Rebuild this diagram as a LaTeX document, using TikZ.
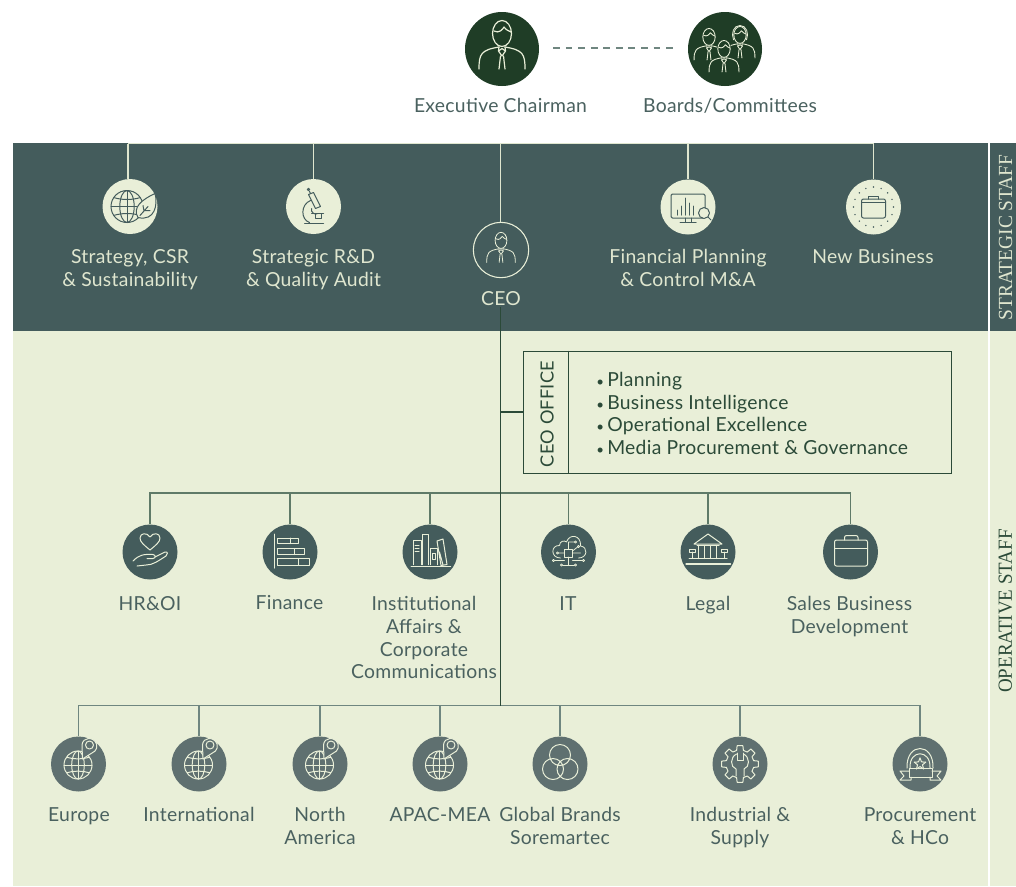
\documentclass[tikz,border=0pt]{standalone}
\usepackage{fontspec}
\setmainfont[LetterSpace=1.5]{Lato}
\newfontfamily\didone{Liberation Serif}
\definecolor{cdark}{HTML}{1F3D26}
\definecolor{cpanel}{HTML}{445C5C}
\definecolor{clight}{HTML}{E9EFD8}
\definecolor{cmid}{HTML}{5F7070}
\definecolor{ctext}{HTML}{4A615F}
\definecolor{ccream}{HTML}{DFE6CF}
\definecolor{cline}{HTML}{5F7A68}
\definecolor{cline2}{HTML}{6F8680}
\definecolor{cdeep}{HTML}{2B4A38}
\tikzset{
  x=0.75pt,y=-0.75pt,
  lab/.style={font=\fontsize{14.5}{17}\selectfont,align=center,inner sep=0pt,anchor=north,yshift=11pt,text=ctext,execute at begin node={\rule{0pt}{11pt}}},
  labl/.style={lab,text=ccream},
  disc/.style={circle,minimum size=41.25pt,inner sep=0pt,draw=none},
  dsl/.style={disc,fill=clight},
  dsd/.style={disc,fill=cpanel},
  dsm/.style={disc,fill=cmid},
  big/.style={circle,minimum size=55.5pt,inner sep=0pt,fill=cdark},
  ring/.style={circle,minimum size=41.5pt,inner sep=0pt,draw=clight,line width=.8pt},
  ico/.style={line width=.75pt,line cap=round,line join=round},
  conlight/.style={draw=ccream,line width=.8pt},
  con2/.style={draw=cline,line width=.8pt},
  con3/.style={draw=cline2,line width=.8pt},
  spine/.style={draw=cdeep,line width=.9pt},
  staff/.style={inner sep=0pt,rotate=90,font=\didone\fontsize{15}{17}\selectfont},
}
\newcommand\officebullet{\makebox[9.75pt][l]{\kern1.5pt\fontsize{10}{17}\selectfont•}}
\newcommand\personicon{%
  \draw (0,-15.5) ellipse (9.5 and 13);
  \draw (-8,-18) .. controls (-3,-15) and (1,-20) .. (2,-22) .. controls (4,-19) and (7,-18) .. (9,-17);
  \draw (-23,20) .. controls (-23,5) and (-21,1) .. (-3,-2);
  \draw (23,20) .. controls (23,5) and (21,1) .. (3,-2);
  \draw (-3,-2) -- (-3.5,2) -- (0,7) -- (3.5,2) -- (3,-2);
  \draw (-3.5,2) -- (0,-.5) -- (3.5,2);
  \draw (-1.5,7) -- (-3,20) (1.5,7) -- (3,20);
}
\newcommand\globeicon[1]{% radius
  \draw (0,0) circle (#1);
  \draw (0,0) ellipse (.45*#1 and #1);
  \draw (0,-#1) -- (0,#1) (-#1,0) -- (#1,0);
  \draw (-.8*#1,-.55*#1) .. controls (-.3*#1,-.4*#1) and (.3*#1,-.4*#1) .. (.8*#1,-.55*#1);
  \draw (-.8*#1,.55*#1) .. controls (-.3*#1,.4*#1) and (.3*#1,.4*#1) .. (.8*#1,.55*#1);
}
\newcommand\pinglobe[1]{%
  \begin{scope}[ico,draw=clight,shift={(#1.center)}]
    \begin{scope}[shift={(-.5,1)}]\globeicon{14}\end{scope}
    \draw[fill=cmid] (4,-5) -- (3.5,-19) .. controls (4,-27) and (15,-28) .. (18,-20) .. controls (19,-17) and (18,-15) .. (16.5,-13) -- cycle;
    \draw (11,-19) circle (4);
  \end{scope}}
\begin{document}
\begin{tikzpicture}
\clip (0,0) rectangle (1016,886);
\fill[white] (0,0) rectangle (1016,886);
% panels
\fill[cpanel] (13,143) rectangle (988,331);
\fill[clight] (13,331) rectangle (988,886);
\fill[cpanel] (990,143) rectangle (1016,331);
\fill[clight] (990,331) rectangle (1016,886);
\node[staff,text=ccream] (stratstaff) at (1005.5,237.5) {\scalebox{.97}[1]{STRATEGIC STAFF}};
\node[staff,text=cdeep] (opstaff) at (1005.5,611) {\scalebox{.95}[1]{OPERATIVE STAFF}};
% free ends of connectors
\coordinate (t1) at (128,143.5);
\coordinate (t2) at (313.5,143.5);
\coordinate (t3) at (500.5,143.5);
\coordinate (t4) at (688,143.5);
\coordinate (t5) at (873.5,143.5);
\coordinate (sp0) at (500.5,307);
\coordinate (sp1) at (500.5,412);
\coordinate (sp2) at (500.5,493);
\coordinate (sp3) at (500.5,705.5);
% top
\node[big] (chair) at (502,49) {};
\node[big] (boards) at (725,49) {};
\node[lab] (lchair) at (500.5,112) {Executive Chairman};
\node[lab] (lboards) at (730,112) {Boards/Committees};
\draw[draw=cline2,line width=.8pt,dash pattern=on 5pt off 4.4pt] (chair.east)++(14,-1) -- ([xshift=-11.25pt,yshift=.75pt]boards.west);
% strategic row
\node[dsl] (s1) at (130,206.5) {};
\node[dsl] (s2) at (313.5,206.5) {};
\node[ring] (s3) at (501,250) {};
\node[dsl] (s4) at (688,207) {};
\node[dsl] (s5) at (873.5,207) {};
\draw[conlight] (t1) -- (t5);
\draw[conlight] (t1) -- (t1 |- s1.north);
\draw[conlight] (t2) -- (s2.north);
\draw[conlight] (t3) -- (t3 |- s3.north);
\draw[conlight] (t4) -- (s4.north);
\draw[conlight] (t5) -- (s5.north);
\node[labl] (ls1) at (130,264) {Strategy, CSR\\\& Sustainability};
\node[labl] (ls2) at (313.5,264) {Strategic R\&D\\\& Quality Audit};
\node[labl] (ls3) at (501,305.5) {CEO};
\node[labl] (ls4) at (688,264) {Financial Planning\\\& Control M\&A};
\node[labl] (ls5) at (873,263.5) {New Business};
% CEO office
\node[draw=cdeep,line width=.8pt,minimum width=321pt,minimum height=92pt,inner sep=0pt,anchor=north west] (office) at (523,350.5) {};
\coordinate (divt) at (568.5,350.5);
\draw[draw=cdeep,line width=.8pt] (divt) -- (divt |- office.south);
\node[inner sep=0pt,rotate=90,text=cdeep,font=\fontsize{13.6}{17}\selectfont] (officet) at (547,414) {CEO OFFICE};
\node[lab,anchor=north west,align=left,text=cdeep] (officel) at (594,386.5) {\officebullet Planning\\\officebullet Business Intelligence\\\officebullet Operational Excellence\\\officebullet Media Procurement \& Governance};
% level 2
\node[dsd] (a1) at (150,552) {};
\node[dsd] (a2) at (290,552) {};
\node[dsd] (a3) at (430,552) {};
\node[dsd] (a4) at (568.5,552) {};
\node[dsd] (a5) at (708,552) {};
\node[dsd] (a6) at (850.5,552) {};
\draw[con2] (a1.north) |- (sp2) -| (a6.north);
\foreach \n in {a2,a3,a4,a5} \draw[con2] (\n.north) -- (\n.north |- sp2);
\node[lab] (la1) at (150,610.5) {HR\&OI};
\node[lab] (la2) at (289.5,609.5) {Finance};
\node[lab] (la3) at (424,611) {Institutional\\Affairs \&\\Corporate\\Communications};
\node[lab] (la4) at (568,610.5) {IT};
\node[lab] (la5) at (708,610.5) {Legal};
\node[lab] (la6) at (849.5,611) {Sales Business\\Development};
% level 3
\node[dsm] (b1) at (78.5,764) {};
\node[dsm] (b2) at (199,764) {};
\node[dsm] (b3) at (320,764) {};
\node[dsm] (b4) at (440,764) {};
\node[dsm] (b5) at (560,764) {};
\node[dsm] (b6) at (740,764) {};
\node[dsm] (b7) at (920,764) {};
\draw[con3] (b1.north) |- (sp3) -| (b7.north);
\foreach \n in {b2,b3,b4,b5,b6} \draw[con3] (\n.north) -- (\n.north |- sp3);
\node[lab] (lb1) at (79,821.5) {Europe};
\node[lab] (lb2) at (199,821.5) {International};
\node[lab] (lb3) at (320,822) {North\\America};
\node[lab] (lb4) at (440,821.5) {APAC-MEA};
\node[lab] (lb5) at (560,822) {Global Brands\\Soremartec};
\node[lab] (lb6) at (740,822) {Industrial \&\\Supply};
\node[lab] (lb7) at (920,822) {Procurement\\\& HCo};
% spine
\draw[spine] (sp0) -- (sp3);
\draw[spine] (sp1) -- (sp1 -| office.west);
% icons: chairman
\begin{scope}[ico,draw=clight,line width=.9pt,shift={(chair.center)}]\personicon\end{scope}
% boards
\begin{scope}[ico,draw=clight,line width=.65pt,shift={(boards.center)}]
  \begin{scope}[shift={(-16,-2)},scale=.65]\personicon\end{scope}
  \begin{scope}[shift={(15,-4)},scale=.65]\personicon
    \draw (-10,-8) .. controls (-14,-18) and (-10,-30) .. (0,-30) .. controls (10,-30) and (14,-18) .. (10,-8);\end{scope}
  \begin{scope}[shift={(-1,10)},scale=.65]
    \fill[cdark] (0,-15.5) ellipse (11 and 15);
    \fill[cdark] (-23,20) .. controls (-23,5) and (-21,1) .. (-3,-2) -- (3,-2) .. controls (21,1) and (23,5) .. (23,20) -- cycle;
    \personicon\end{scope}
\end{scope}
% CEO
\begin{scope}[ico,draw=clight,line width=.6pt,shift={(s3.center)},scale=.62]\personicon\end{scope}
% strategy
\begin{scope}[ico,draw=cpanel,shift={(s1.center)}]
  \begin{scope}[shift={(-3,0)}]\globeicon{16}\end{scope}
  \draw[fill=clight] (8,11) .. controls (2,1) and (12,-7) .. (25,-13) .. controls (28,-2) and (25,15) .. (8,11);
  \draw (10,9) -- (18,0) (14,4.5) -- (13,-1) (15,4) -- (20,4);
\end{scope}
% microscope
\begin{scope}[ico,draw=cpanel,shift={(s2.center)}]
  \draw (-5,-12) -- (0,-14) -- (7,0) -- (2,2) -- cycle;
  \draw (-5,-17) circle (1.2) (-4,-15) -- (-3,-13);
  \draw (-3,-6) .. controls (-13,-2) and (-13,13) .. (-4,16);
  \draw (-9,16.5) -- (10,16.5);
  \draw (-2,7) -- (10,7) (2,7) -- (2,12) -- (8,12) -- (8,7);
  \draw (-2,2) .. controls (-3,6) and (2,9) .. (4,7);
\end{scope}
% chart
\begin{scope}[ico,draw=cpanel,shift={(s4.center)}]
  \draw[rounded corners=1pt] (-17,-13) rectangle (17,11);
  \draw (-3,11) -- (-3,15) (3,11) -- (3,15) (-8,15.5) -- (8,15.5);
  \draw (-11,8) -- (-11,3) (-7,8) -- (-7,-1) (-3,8) -- (-3,-9) (1,8) -- (1,-4) (5,8) -- (5,-1);
  \draw[fill=clight] (16,6) circle (5.5);
  \draw (20,10) -- (23,13);
\end{scope}
% new business
\begin{scope}[ico,draw=cpanel,shift={(s5.center)}]
  \draw[rounded corners=1.5pt] (-12,-8) rectangle (12,11);
  \draw (-5,-8) -- (-5,-11) -- (5,-11) -- (5,-8) (-12,-4.5) -- (12,-4.5);
  \foreach \a in {0,22.5,...,337.5} \fill[cpanel] (\a:20) circle (.8);
\end{scope}
% HR
\begin{scope}[ico,draw=clight,shift={(a1.center)}]
  \draw (0,-2) .. controls (-6,-7) and (-10,-10) .. (-10,-14) .. controls (-10,-19) and (-3,-20) .. (0,-15) .. controls (3,-20) and (10,-19) .. (10,-14) .. controls (10,-10) and (6,-7) .. (0,-2);
  \draw (-17,9) .. controls (-11,3) and (-7,2) .. (3,2.5) .. controls (6,3) and (6,6) .. (3,6.5) -- (-3,6.5);
  \draw (5,5) -- (15,0) .. controls (18,-1) and (18,3) .. (16,4) .. controls (8,9) and (3,13) .. (-4,13) -- (-13,14);
\end{scope}
% finance
\begin{scope}[ico,draw=clight,shift={(a2.center)}]
  \draw (-15.5,-18) -- (-15.5,16);
  \draw (-13,-14) rectangle (8,-8.5) (0,-14) -- (0,-8.5);
  \draw (-13,-3.5) rectangle (14.5,2.5) (4.5,-3.5) -- (4.5,2.5);
  \draw (-13,6.5) rectangle (19.5,13) (8.5,6.5) -- (8.5,13);
\end{scope}
% books
\begin{scope}[ico,draw=clight,shift={(a3.center)}]
  \draw (-19,14) -- (20.5,14);
  \draw (-17,12.5) -- (-17,-11.5) -- (-9,-11.5) -- (-9,12.5) (-15,-7) -- (-11,-7) (-15,-4) -- (-11,-4) (-15,-1) -- (-11,-1);
  \draw (-7.5,12.5) -- (-7.5,-18) -- (-1.5,-18) -- (-1.5,12.5);
  \draw (.5,12.5) -- (.5,-4) -- (7,-4) -- (7,12.5) (2,1) rectangle (5,7);
  \draw (7,-11) -- (13,-13) -- (17,12.5) -- (11,13.5) -- cycle (9.5,0) -- (13,13);
\end{scope}
% IT
\begin{scope}[ico,draw=clight,line width=.6pt,shift={(a4.center)}]
  \draw (-8,6) .. controls (-18,6) and (-18,-7) .. (-9,-6.5) .. controls (-9,-11) and (-4,-12) .. (-2,-10) .. controls (1,-19) and (13,-17) .. (12,-6) .. controls (20,-5) and (19,6) .. (10,6);
  \draw (-4,-3) rectangle (4,5);
  \draw (0,5) -- (0,13) (-6,13) -- (6,13) (-14,8.5) -- (-4,8.5) (4,8.5) -- (14,8.5);
  \draw (0,-3) -- (0,-10) -- (6,-10) (4,1) -- (12,1) (-4,1) -- (-10,1) (4,-1) -- (9,-5);
  \foreach \p in {(-7,13),(7,13),(-15,8.5),(15,8.5),(7,-10),(-11,1),(10,-5.5)} \draw[fill=cpanel] \p circle (1.1);
\end{scope}
% legal
\begin{scope}[ico,draw=clight,shift={(a5.center)}]
  \draw (-14,-8) -- (0,-18) -- (14,-8) -- cycle;
  \draw (-11,-6.5) -- (11,-6.5);
  \foreach \x in {-10,-4,2,8} \draw (\x,-6.5) -- (\x,6.5);
  \draw (-19,6.5) -- (19,6.5);
  \draw[line width=1pt] (-22,12) -- (22.5,12);
  \draw (-19,-3) rectangle (-13,0) (-16,0) -- (-16,6) (13,-3) rectangle (19,0) (16,0) -- (16,6);
\end{scope}
% briefcase
\begin{scope}[ico,draw=clight,shift={(a6.center)}]
  \draw[rounded corners=1.5pt] (-16,-12) rectangle (17,14);
  \draw[rounded corners=1.5pt] (-6,-12) -- (-6,-16.5) -- (7.5,-16.5) -- (7.5,-12);
  \draw (-16,-4) -- (17,-4);
\end{scope}
% pins
\pinglobe{b1}\pinglobe{b2}\pinglobe{b3}\pinglobe{b4}
% global brands
\begin{scope}[ico,draw=clight,shift={(b5.center)}]
  \draw (0,-9) circle (10.5) (-7,5) circle (10.5) (7.5,5) circle (10.5);
\end{scope}
% gear
\begin{scope}[ico,draw=clight,shift={(b6.center)}]
  \foreach \a in {0,45,...,315} {
    \draw (\a-14:14) -- (\a-9:18.5) -- (\a+9:18.5) -- (\a+14:14) -- (\a+31:14);
  }
  \draw (-3,-11) -- (-3,-4) -- (3,-4) -- (3,-11);
  \draw (-3.5,-10) .. controls (-10,-7) and (-10,3) .. (-4,5) -- (-4,12) (3.5,-10) .. controls (10,-7) and (10,3) .. (4,5) -- (4,12);
\end{scope}
% award
\begin{scope}[ico,draw=clight,shift={(b7.center)}]
  \draw (-11,4) rectangle (12,13);
  \draw (-13,4) .. controls (-14,-22) and (14,-22) .. (13,4);
  \draw (-10,4) .. controls (-11,-15) and (11,-15) .. (10,4);
  \foreach \k in {0,72,...,288} \draw (-90+\k:6) -- (-54+\k:2.6) -- (-18+\k:6);
  \draw (-11,7) -- (-20,7) -- (-16,12) -- (-20,16) -- (-9,16) -- (-9,13);
  \draw (12,7) -- (21,7) -- (17,12) -- (21,16) -- (10,16) -- (10,13);
\end{scope}
\end{tikzpicture}
\end{document}
